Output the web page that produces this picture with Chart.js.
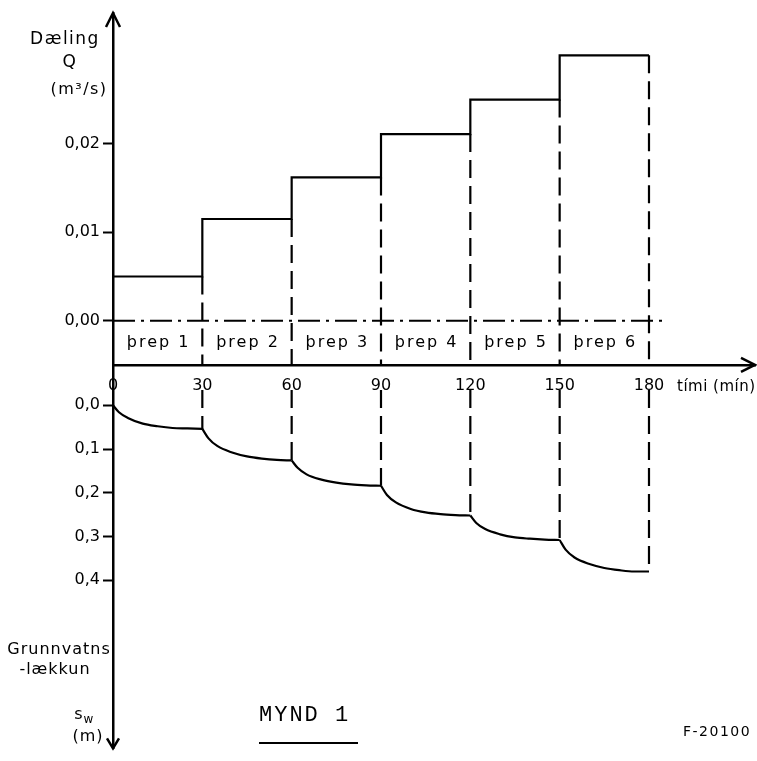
<!DOCTYPE html>
<html>
<head>
<meta charset="utf-8">
<script src="https://cdn.jsdelivr.net/npm/chart.js@4.4.1/dist/chart.umd.min.js"></script>
<style>
  html, body { margin: 0; padding: 0; background: #fff; }
  #wrap { position: relative; width: 757px; height: 761px; }
</style>
</head>
<body>
<div id="wrap"><canvas id="chart" width="757" height="761"></canvas></div>
<script>
// step drawdown test: pumping rate per step (top) and drawdown (bottom)
const stepTimes = [0, 30, 60, 90, 120, 150, 180];
const discharge = [0.005, 0.0115, 0.0162, 0.0211, 0.025, 0.030, 0.030];
const stepNames = ["þrep 1", "þrep 2", "þrep 3", "þrep 4", "þrep 5", "þrep 6"];
const timeTicks = [0, 30, 60, 90, 120, 150, 180];
const qTicks = [0, 0.01, 0.02];
const sTicks = [0, 0.1, 0.2, 0.3, 0.4];
const zeroLineEnd = 186;

// minutes into each step where the drawdown was read
const curveTimes = [0, 2, 5, 10, 15, 20, 25, 30];
const drawdown1 = [0, 0.016, 0.029, 0.042, 0.048, 0.052, 0.053, 0.054];
const drawdown2 = [0.054, 0.075, 0.093, 0.108, 0.117, 0.122, 0.125, 0.126];
const drawdown3 = [0.126, 0.143, 0.158, 0.170, 0.177, 0.181, 0.183, 0.184];
const drawdown4 = [0.184, 0.205, 0.222, 0.237, 0.245, 0.249, 0.251, 0.252];
const drawdown5 = [0.252, 0.269, 0.283, 0.295, 0.302, 0.305, 0.307, 0.308];
const drawdown6 = [0.308, 0.330, 0.348, 0.363, 0.372, 0.377, 0.380, 0.380];
const drawdowns = [drawdown1, drawdown2, drawdown3, drawdown4, drawdown5, drawdown6];

const INK = "#000";
const FONT = "'DejaVu Sans', sans-serif";

const stepData = stepTimes.map((t, i) => ({ x: t, y: discharge[i] }));

const curveSets = drawdowns.map((vals, k) => ({
  data: vals.map((v, j) => ({ x: stepTimes[k] + curveTimes[j], y: v })),
  yAxisID: "yS",
  borderColor: INK,
  borderWidth: 2.2,
  pointRadius: 0,
  fill: false,
  cubicInterpolationMode: "monotone",
}));

const fmt = (digits) => (v) => v.toFixed(digits).replace(".", ",");
const fixWidth = (s) => { s.width = 70; };

// dashed verticals, zone names, arrows and captions
const extras = {
  id: "extras",
  afterDatasetsDraw(chart) {
    const { ctx, chartArea } = chart;
    const x = chart.scales.x;
    const yQ = chart.scales.y;
    const yS = chart.scales.yS;

    ctx.save();
    ctx.strokeStyle = INK;
    ctx.lineWidth = 2.2;
    ctx.setLineDash([18, 8]);
    for (let i = 1; i < stepTimes.length; i++) {
      const px = x.getPixelForValue(stepTimes[i]);
      const endS = drawdowns[i - 1][curveTimes.length - 1];
      ctx.beginPath();
      ctx.moveTo(px, yQ.getPixelForValue(discharge[i - 1]));
      ctx.lineTo(px, yQ.getPixelForValue(-0.005));
      // leave room for the time labels under the axis
      ctx.moveTo(px, yS.getPixelForValue(-0.035));
      ctx.lineTo(px, yS.getPixelForValue(endS));
      ctx.stroke();
    }
    ctx.setLineDash([]);

    // zone names between the zero line and the time axis
    ctx.fillStyle = INK;
    ctx.font = "16px " + FONT;
    ctx.letterSpacing = "2px";
    ctx.textAlign = "center";
    ctx.textBaseline = "middle";
    stepNames.forEach((name, i) => {
      const mid = (stepTimes[i] + stepTimes[i + 1]) / 2;
      ctx.fillText(name, x.getPixelForValue(mid) + 1, yQ.getPixelForValue(-0.0025));
    });

    // arrow heads
    const ax = x.getPixelForValue(0);
    const ay = yQ.getPixelForValue(-0.005);
    ctx.lineWidth = 2.5;
    ctx.beginPath();
    ctx.moveTo(ax - 7, chartArea.top + 14);
    ctx.lineTo(ax, chartArea.top);
    ctx.lineTo(ax + 7, chartArea.top + 14);
    ctx.moveTo(ax - 6, chartArea.bottom - 10);
    ctx.lineTo(ax, chartArea.bottom);
    ctx.lineTo(ax + 6, chartArea.bottom - 10);
    ctx.moveTo(chartArea.right - 14, ay - 7);
    ctx.lineTo(chartArea.right, ay);
    ctx.lineTo(chartArea.right - 14, ay + 7);
    ctx.stroke();

    // axis captions
    ctx.font = "17px " + FONT;
    ctx.letterSpacing = "1.5px";
    ctx.fillText("Dæling", 65, 40);
    ctx.fillText("Q", 70, 63);
    ctx.font = "16px " + FONT;
    ctx.fillText("(m³/s)", 79, 90);
    ctx.letterSpacing = "1px";
    ctx.fillText("Grunnvatns", 59, 650);
    ctx.fillText("-lækkun", 55, 670);
    ctx.fillText("(m)", 88, 737);
    ctx.fillText("s", 79, 715);
    ctx.font = "12px " + FONT;
    ctx.fillText("w", 89, 720);

    ctx.textAlign = "left";
    ctx.font = "15px " + FONT;
    ctx.letterSpacing = "0.5px";
    ctx.fillText("tími (mín)", 677, 387);

    ctx.font = "14px " + FONT;
    ctx.letterSpacing = "1.5px";
    ctx.fillText("F-20100", 683, 732);

    ctx.font = "22px 'Liberation Mono', monospace";
    ctx.letterSpacing = "2px";
    ctx.fillText("MYND 1", 259, 715);
    ctx.lineWidth = 2;
    ctx.beginPath();
    ctx.moveTo(259, 743);
    ctx.lineTo(358, 743);
    ctx.stroke();
    ctx.restore();
  },
};

new Chart(document.getElementById("chart"), {
  type: "line",
  data: {
    datasets: [
      {
        data: stepData,
        yAxisID: "y",
        borderColor: INK,
        borderWidth: 2.2,
        pointRadius: 0,
        stepped: "before",
        fill: false,
      },
      {
        data: [{ x: 0, y: 0 }, { x: zeroLineEnd, y: 0 }],
        yAxisID: "y",
        borderColor: INK,
        borderWidth: 1.8,
        borderDash: [22, 6, 3, 6],
        pointRadius: 0,
        fill: false,
      },
      ...curveSets,
    ],
  },
  options: {
    responsive: false,
    animation: false,
    layout: { padding: { left: 43, top: 13, right: 2, bottom: 0 } },
    plugins: { legend: { display: false }, tooltip: { enabled: false } },
    scales: {
      x: {
        type: "linear",
        min: 0,
        max: 215.6,
        position: { y: -0.005 },
        afterBuildTicks: (s) => { s.ticks = timeTicks.map((v) => ({ value: v })); },
        grid: { display: false, drawTicks: false },
        border: { display: true, color: INK, width: 2.5 },
        ticks: { color: INK, font: { family: FONT, size: 16 }, padding: 11, maxRotation: 0, autoSkip: false },
      },
      yS: {
        type: "linear",
        reverse: true,
        min: -0.0921,
        max: 0.7843,
        position: "left",
        stack: "left",
        stackWeight: 390,
        afterFit: fixWidth,
        afterBuildTicks: (s) => { s.ticks = sTicks.map((v) => ({ value: v })); },
        grid: { display: true, drawOnChartArea: false, drawTicks: true, tickLength: 10, tickWidth: 2, tickColor: INK },
        border: { display: true, color: INK, width: 2.5 },
        ticks: { color: INK, font: { family: FONT, size: 16 }, padding: 3, callback: fmt(1), autoSkip: false },
      },
      y: {
        type: "linear",
        min: -0.005,
        max: 0.03478,
        position: "left",
        stack: "left",
        stackWeight: 358,
        afterFit: fixWidth,
        afterBuildTicks: (s) => { s.ticks = qTicks.map((v) => ({ value: v })); },
        grid: { display: true, drawOnChartArea: false, drawTicks: true, tickLength: 10, tickWidth: 2, tickColor: INK },
        border: { display: true, color: INK, width: 2.5 },
        ticks: { color: INK, font: { family: FONT, size: 16 }, padding: 3, callback: fmt(2), autoSkip: false },
      },
    },
  },
  plugins: [extras],
});
</script>
</body>
</html>
